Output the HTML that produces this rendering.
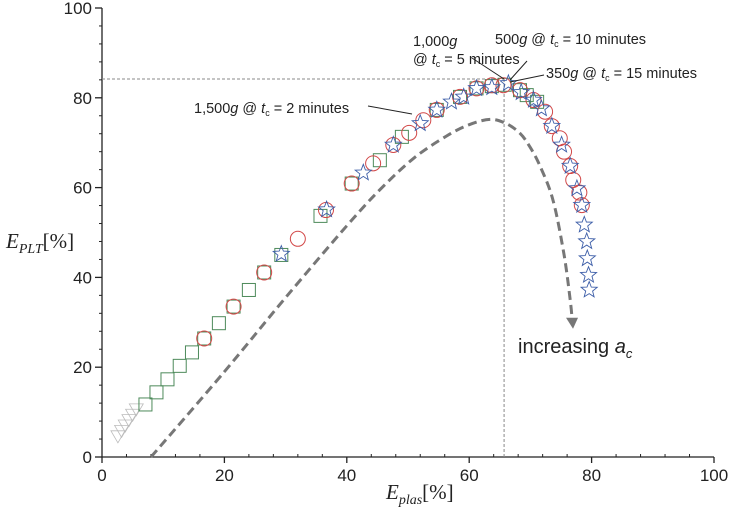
<!DOCTYPE html>
<html><head><meta charset="utf-8"><style>
body{margin:0;background:#fff}
svg{display:block}
text{font-family:"Liberation Sans",sans-serif;fill:#222}
text.serif{font-family:"Liberation Serif",serif}
</style></head><body>
<svg id="chart" width="730" height="515" viewBox="0 0 730 515" xmlns="http://www.w3.org/2000/svg">
<g id="axes"></g>
<g id="marks"></g>
<g id="annot">
<text class="serif" x="6" y="248" font-size="21"><tspan font-style="italic">E</tspan><tspan font-style="italic" font-size="14" dy="5">PLT</tspan><tspan dy="-5">[%]</tspan></text>
<text class="serif" x="386" y="499" font-size="21"><tspan font-style="italic">E</tspan><tspan font-style="italic" font-size="14" dy="5">plas</tspan><tspan dy="-5">[%]</tspan></text>
<text x="194" y="113" font-size="14.5">1,500<tspan font-style="italic">g</tspan> @ <tspan font-style="italic">t</tspan><tspan font-size="9" dy="3">c</tspan><tspan dy="-3"> = 2 minutes</tspan></text>
<line x1="368" y1="106" x2="412" y2="114" stroke="#222" stroke-width="1"/>
<text x="413" y="46" font-size="14.5">1,000<tspan font-style="italic">g</tspan></text>
<text x="413" y="64" font-size="14.5">@ <tspan font-style="italic">t</tspan><tspan font-size="9" dy="3">c</tspan><tspan dy="-3"> = 5 minutes</tspan></text>
<line x1="472" y1="58" x2="504" y2="79" stroke="#222" stroke-width="1"/>
<text x="495" y="44" font-size="14.5">500<tspan font-style="italic">g</tspan> @ <tspan font-style="italic">t</tspan><tspan font-size="9" dy="3">c</tspan><tspan dy="-3"> = 10 minutes</tspan></text>
<line x1="527" y1="61" x2="510" y2="80" stroke="#222" stroke-width="1"/>
<text x="546" y="78" font-size="14.5">350<tspan font-style="italic">g</tspan> @ <tspan font-style="italic">t</tspan><tspan font-size="9" dy="3">c</tspan><tspan dy="-3"> = 15 minutes</tspan></text>
<line x1="544" y1="75" x2="510" y2="82" stroke="#222" stroke-width="1"/>
<text x="518" y="353" font-size="20">increasing <tspan font-style="italic">a</tspan><tspan font-style="italic" font-size="13" dy="5">c</tspan></text>
</g>
</svg>
<script>
const xTicks=[0,20,40,60,80,100];
const yTicks=[0,20,40,60,80,100];
const triX=[2.6,3.2,3.8,4.4,5.0,5.6];
const triY=[4.5,5.7,6.9,8.1,9.3,10.5];
const sqX=[7.1,8.9,10.7,12.7,14.7,16.7,19.1,21.5,24,26.5,29.3,35.7,40.8,45.4,49,54.7,58.5,61.2,63.7,65.8,68.3,69.4,71.1];
const sqY=[11.7,14.4,17.3,20.3,23.3,26.4,29.8,33.5,37.2,41.1,45,53.7,60.9,66.1,71.3,77.3,80.2,82.1,82.6,82.9,81.7,80.6,79.1];
const cirX=[16.7,21.5,26.5,32,36.6,40.8,44.3,47.6,50.2,52.5,54.7,58.5,61.2,63.7,65.6,68.3,70.5,72.4,73.5,74.8,75.5,76.5,77,78,78.4];
const cirY=[26.4,33.5,41.1,48.6,55,60.9,65.4,69.5,72.2,75,77.3,80.2,82.1,82.8,82.8,81.7,79.5,76.9,73.7,71,68,64.8,61.7,58.9,56.1];
const starX=[29.3,36.7,42.7,47.6,52,54.7,57.1,59.1,61.2,63.7,66.4,68.5,70.5,71.8,73.5,75.1,76.5,77.6,78.4,78.8,79.2,79.3,79.5,79.6];
const starY=[45.2,55.1,63.3,69.5,74.3,77.3,79.1,80.2,82.1,82.3,83.2,81.2,79.5,77.6,73.7,69.5,64.8,59.8,56.1,51.7,48,44.2,40.5,37.2];
const trendX=[8,20,30,40,45.4,50.9,56.3,60,63.4,66,68.3,69.9,71.5,73.7,75.5,76.5,76.8];
const trendY=[0,19,35.5,51.5,59.5,66.5,71.5,74,75.2,74.3,72.1,69.1,65,57.2,45,35,31];
const refX=[65.7];
const refY=[84.2];

const NS="http://www.w3.org/2000/svg";
const X0=102,X1=714,Y0=457,Y1=8;
function sx(v){return X0+(v/100)*(X1-X0);}
function sy(v){return Y0-(v/100)*(Y0-Y1);}
function mk(tag,attrs,parent){const e=document.createElementNS(NS,tag);for(const k in attrs)e.setAttribute(k,attrs[k]);parent.appendChild(e);return e;}
const axes=document.getElementById('axes'),marks=document.getElementById('marks');

let l=mk('line',{x1:X0,y1:Y0,x2:X1,y2:Y0,stroke:'#222','stroke-width':1.3},axes);


l=mk('line',{x1:X0,y1:Y0,x2:X0,y2:Y1,stroke:'#222','stroke-width':1.3},axes);


for(let v=4;v<100;v+=4){if(v%20===0)continue;
 let t=mk('line',{x1:sx(v),y1:Y0,x2:sx(v),y2:Y0-3,stroke:'#222'},axes);
 
 
 t=mk('line',{x1:X0,y1:sy(v),x2:X0-3,y2:sy(v),stroke:'#222'},axes);
 
 }
xTicks.forEach(v=>{
 const t=mk('line',{x1:sx(v),y1:Y0,x2:sx(v),y2:Y0+6,stroke:'#222','stroke-width':1.3},axes);
 
 
 const tx=mk('text',{x:sx(v),y:Y0+24,'font-size':17,'text-anchor':'middle'},axes);tx.textContent=v;
 
 
});
yTicks.forEach(v=>{
 const t=mk('line',{x1:X0,y1:sy(v),x2:X0-7,y2:sy(v),stroke:'#222','stroke-width':1.3},axes);
 
 
 const tx=mk('text',{x:X0-10,y:sy(v)+6,'font-size':17,'text-anchor':'end'},axes);tx.textContent=v;
 
 
});
let r=mk('line',{x1:sx(0),y1:sy(refY[0]),x2:sx(refX[0]),y2:sy(refY[0]),stroke:'#888','stroke-dasharray':'3,2','stroke-width':1},marks);


r=mk('line',{x1:sx(refX[0]),y1:sy(0),x2:sx(refX[0]),y2:sy(refY[0]),stroke:'#888','stroke-dasharray':'3,2','stroke-width':1},marks);


// smooth trend via Catmull-Rom
const P=trendX.map((v,i)=>[sx(v),sy(trendY[i])]);
let d='M'+P[0][0].toFixed(1)+','+P[0][1].toFixed(1);
for(let i=0;i<P.length-1;i++){const p0=P[Math.max(0,i-1)],p1=P[i],p2=P[i+1],p3=P[Math.min(P.length-1,i+2)];
 const c1=[p1[0]+(p2[0]-p0[0])/6,p1[1]+(p2[1]-p0[1])/6],c2=[p2[0]-(p3[0]-p1[0])/6,p2[1]-(p3[1]-p1[1])/6];
 d+=` C${c1[0].toFixed(1)},${c1[1].toFixed(1)} ${c2[0].toFixed(1)},${c2[1].toFixed(1)} ${p2[0].toFixed(1)},${p2[1].toFixed(1)}`;}
let p=mk('path',{d:d,fill:'none',stroke:'#777','stroke-width':3,'stroke-dasharray':'9,5'},marks);


const n=trendX.length-1,ax=sx(trendX[n]),ay=sy(trendY[n]);
p=mk('path',{d:`M${ax-6},${ay} L${ax+6},${ay} L${ax+1},${ay+11} Z`,fill:'#777'},marks);


triX.forEach((v,i)=>{const x=sx(v),y=sy(triY[i]);
 const e=mk('path',{d:`M${x-7},${y-6} L${x+7},${y-6} L${x},${y+6} Z`,fill:'none',stroke:'#bbb','stroke-width':0.8},marks);
 
 });
sqX.forEach((v,i)=>{const x=sx(v),y=sy(sqY[i]);
 const e=mk('rect',{x:x-6.5,y:y-6.5,width:13,height:13,fill:'none',stroke:'#4d8a5a','stroke-width':1},marks);
 
 });
cirX.forEach((v,i)=>{
 const e=mk('circle',{cx:sx(v),cy:sy(cirY[i]),r:7.5,fill:'none',stroke:'#d24848','stroke-width':1},marks);
 
 });
starX.forEach((v,i)=>{const x=sx(v),y=sy(starY[i]);let pts=[];
 for(let k=0;k<10;k++){const a=-Math.PI/2+k*Math.PI/5,rr=k%2?3.6:8.5;pts.push((x+rr*Math.cos(a)).toFixed(1)+','+(y+rr*Math.sin(a)).toFixed(1));}
 const e=mk('polygon',{points:pts.join(' '),fill:'none',stroke:'#3d5ea8','stroke-width':0.9},marks);
 
 });
</script>
</body></html>
